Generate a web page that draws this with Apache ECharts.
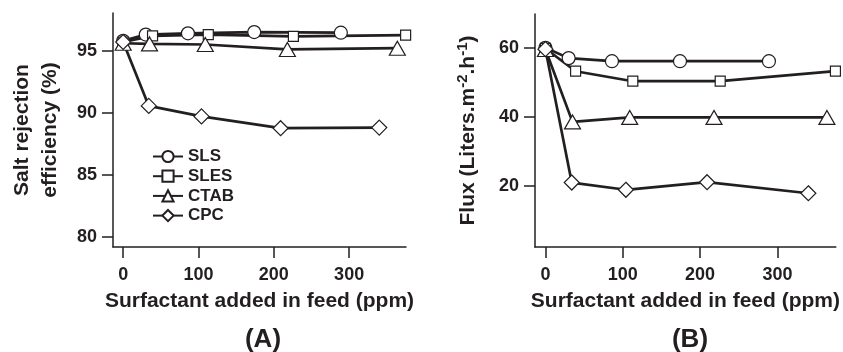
<!DOCTYPE html>
<html>
<head>
<meta charset="utf-8">
<script src="https://cdn.jsdelivr.net/npm/echarts@6.0.0/dist/echarts.min.js"></script>
<style>
  html, body { margin: 0; padding: 0; background: #fff; }
  #chart { width: 843px; height: 352px; }
</style>
</head>
<body>
<div id="chart"></div>
<script>
// surfactant dose (ppm) for each series
const xSLS = [0, 30, 86, 174, 289];
const xSLES = [0, 39, 113, 226, 375];
const xCTAB = [0, 35, 109, 218, 364];
const xCPC = [0, 34, 104, 209, 340];

// (A) salt rejection efficiency (%)
const rejSLS = [95.8, 96.3, 96.4, 96.5, 96.45];
const rejSLES = [95.7, 96.2, 96.3, 96.15, 96.25];
const rejCTAB = [95.6, 95.55, 95.5, 95.1, 95.2];
const rejCPC = [95.7, 90.55, 89.7, 88.75, 88.8];

// (B) flux (L m-2 h-1)
const fluxSLS = [60, 57, 56.1, 56.1, 56.1];
const fluxSLES = [59.8, 53.2, 50.3, 50.3, 53.2];
const fluxCTAB = [59.5, 38.5, 39.8, 39.8, 39.8];
const fluxCPC = [59.6, 20.9, 18.8, 21, 17.8];

const names = ['SLS', 'SLES', 'CTAB', 'CPC'];
const xTicks = [0, 100, 200, 300];
const rejTicks = [80, 85, 90, 95];
const fluxTicks = [20, 40, 60];

const ink = '#231f20';
const font = 'Liberation Sans, Arial, sans-serif';

const markers = {
  SLS: { symbol: 'circle', size: 13 },
  SLES: { symbol: 'rect', size: 10 },
  CTAB: { symbol: 'triangle', size: [16, 14] },
  CPC: { symbol: 'diamond', size: 15 },
};

const zip = (xs, ys) => xs.map((x, i) => [x, ys[i]]);

function makeSeries(name, xs, ys, idx) {
  return {
    name,
    type: 'line',
    xAxisIndex: idx,
    yAxisIndex: idx,
    data: zip(xs, ys),
    symbol: markers[name].symbol,
    symbolSize: markers[name].size,
    showAllSymbol: true,
    clip: false,
    lineStyle: { color: ink, width: 2.7 },
    itemStyle: { color: '#fff', borderColor: ink, borderWidth: 1.2 },
    emphasis: { disabled: true },
    animation: false,
  };
}

function xAxisOf(idx) {
  return {
    type: 'value',
    gridIndex: idx,
    min: -13.5,
    max: 375.5,
    name: 'Surfactant added in feed (ppm)',
    nameLocation: 'middle',
    nameGap: 44,
    nameTextStyle: { color: ink, fontFamily: font, fontWeight: 'bold', fontSize: 21 },
    axisLine: { onZero: false, lineStyle: { color: ink, width: 1.5 } },
    axisTick: { customValues: xTicks, length: 11, lineStyle: { color: ink, width: 1.5 } },
    axisLabel: { customValues: xTicks, margin: 19, color: ink, fontFamily: font, fontWeight: 'bold', fontSize: 18 },
    splitLine: { show: false },
  };
}

const chart = echarts.init(document.getElementById('chart'), null, { renderer: 'canvas' });

chart.setOption({
  backgroundColor: '#fff',
  animation: false,
  title: [
    { text: '(A)', left: 258, top: 322, textAlign: 'center',
      textStyle: { color: ink, fontFamily: font, fontWeight: 'bold', fontSize: 26 } },
    { text: '(B)', left: 685, top: 322, textAlign: 'center',
      textStyle: { color: ink, fontFamily: font, fontWeight: 'bold', fontSize: 26 } },
  ],
  legend: {
    data: names,
    orient: 'vertical',
    left: 152,
    top: 148,
    padding: 0,
    itemWidth: 30,
    itemHeight: 14,
    itemGap: 2.7,
    lineStyle: { width: 2 },
    textStyle: { color: ink, fontFamily: font, fontWeight: 'bold', fontSize: 17, lineHeight: 16 },
    selectedMode: false,
  },
  grid: [
    { left: 113, top: 13, width: 293, height: 234 },
    { left: 535, top: 14, width: 301, height: 233 },
  ],
  xAxis: [xAxisOf(0), xAxisOf(1)],
  yAxis: [
    {
      type: 'value',
      gridIndex: 0,
      min: 79.17,
      max: 98.04,
      name: 'Salt rejection\nefficiency (%)',
      nameLocation: 'middle',
      nameGap: 49,
      nameTextStyle: { color: ink, fontFamily: font, fontWeight: 'bold', fontSize: 21, lineHeight: 28 },
      axisLine: { onZero: false, lineStyle: { color: ink, width: 1.5 } },
      axisTick: { customValues: rejTicks, length: 11, lineStyle: { color: ink, width: 1.5 } },
      axisLabel: { customValues: rejTicks, margin: 16, color: ink, fontFamily: font, fontWeight: 'bold', fontSize: 18 },
      splitLine: { show: false },
    },
    {
      type: 'value',
      gridIndex: 1,
      min: 2.2,
      max: 69.8,
      name: 'Flux (Liters.m{sup|-2}.h{sup|-1})',
      nameLocation: 'middle',
      nameGap: 53,
      nameTextStyle: {
        color: ink, fontFamily: font, fontWeight: 'bold', fontSize: 21,
        rich: {
          sup: { color: ink, fontFamily: font, fontWeight: 'bold', fontSize: 15, verticalAlign: 'bottom', padding: [0, 0, 12, 0] },
        },
      },
      axisLine: { onZero: false, lineStyle: { color: ink, width: 1.5 } },
      axisTick: { customValues: fluxTicks, length: 11, lineStyle: { color: ink, width: 1.5 } },
      axisLabel: { customValues: fluxTicks, margin: 16, color: ink, fontFamily: font, fontWeight: 'bold', fontSize: 18 },
      splitLine: { show: false },
    },
  ],
  series: [
    makeSeries('SLS', xSLS, rejSLS, 0),
    makeSeries('SLES', xSLES, rejSLES, 0),
    makeSeries('CTAB', xCTAB, rejCTAB, 0),
    makeSeries('CPC', xCPC, rejCPC, 0),
    makeSeries('SLS', xSLS, fluxSLS, 1),
    makeSeries('SLES', xSLES, fluxSLES, 1),
    makeSeries('CTAB', xCTAB, fluxCTAB, 1),
    makeSeries('CPC', xCPC, fluxCPC, 1),
  ],
});
</script>
</body>
</html>
